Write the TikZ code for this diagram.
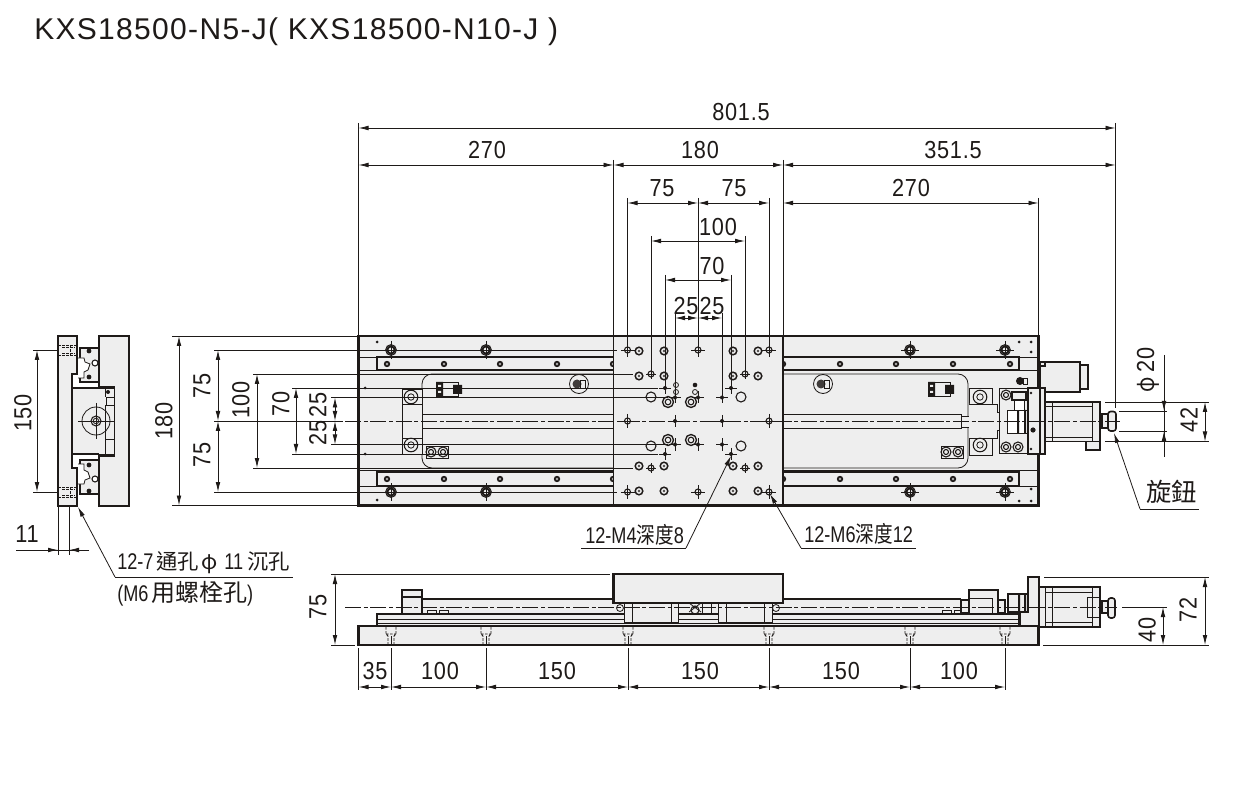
\documentclass[tikz,border=0pt]{standalone}
\usepackage{fontspec}
\setmainfont{Liberation Sans}
\newfontfamily\titlefont[LetterSpace=4.4]{Liberation Sans}
\newfontfamily\dimfont[FakeStretch=0.88,LetterSpace=3]{Liberation Sans}
\newfontfamily\tagfont[FakeStretch=0.8]{Liberation Sans}
\newfontfamily\cjkfont[FakeStretch=0.82]{Noto Sans CJK TC}
\newfontfamily\cjkwide{Noto Sans CJK TC}
\usetikzlibrary{arrows.meta}
\definecolor{partgray}{HTML}{EEEEEE}
\definecolor{inkblack}{HTML}{1E1A18}
\newcommand{\cj}[1]{{\cjkfont #1}}
\newcommand{\cjw}[2]{{\cjkwide\fontsize{#1}{20}\selectfont #2}}
\newcommand{\xhair}[3]{\draw[thinln] (#1-#3,#2) -- (#1+#3,#2) (#1,#2-#3) -- (#1,#2+#3);}
\tikzset{
    thinln/.style = {draw=inkblack, line width=0.6pt},
    thickln/.style = {draw=inkblack, line width=1.6pt},
    part/.style = {thickln, fill=partgray},
    subpart/.style = {thinln, fill=partgray},
    centerln/.style = {thinln, dash pattern=on 12pt off 2pt on 3pt off 2pt},
    hiddenln/.style = {thinln, dash pattern=on 2pt off 1pt},
    dimln/.style = {thinln, {Latex[length=7.5pt,width=3.5pt]}-{Latex[length=7.5pt,width=3.5pt]}},
    dimin/.style = {thinln, -{Latex[length=7.5pt,width=3.5pt]}},
    num/.style = {inner sep=0pt, text=inkblack, font=\dimfont\fontsize{18.5}{20}\selectfont},
    tag/.style = {inner sep=0pt, text=inkblack, font=\tagfont\fontsize{17}{20}\selectfont},
    ring/.style = {thinln, line width=0.8pt},
}
\begin{document}
\begin{tikzpicture}[x=0.75pt, y=-0.75pt]
    \useasboundingbox (0,0) rectangle (1252,787);
    \node[inner sep=0pt, anchor=west, text=inkblack, font=\titlefont\fontsize{22.5}{24}\selectfont] (title) at (34,32) {KXS18500-N5-J( KXS18500-N10-J )};

    % side view
    \draw[part] (58,336) -- (77,336) -- (77,374) -- (72,374) -- (72,468) -- (77,468) -- (77,506) -- (58,506) -- cycle;
    \draw[part] (99,336) -- (129,336) -- (129,506) -- (99,506) -- (99,456) -- (114,456) -- (114,387) -- (99,387) -- cycle;
    \draw[subpart] (72,388) rectangle (114,454);
    \draw[thinln, line width=1pt] (72,388) -- (99,388) (72,454) -- (99,454);
    \draw[thinln] (106,397) rectangle (114,405) (105,439) rectangle (114,454) (105,388) -- (105,397) (105,405) -- (105,439);
    \fill[inkblack] (108,392) circle (2);
    \draw[thinln] (96,421) circle (14);
    \draw[ring] (96,421) circle (5);
    \draw[thinln] (96,421) circle (2.8);
    \xhair{96}{421}{18}
    \foreach \y/\s in {350/1,492/-1} {
        \draw[thickln, fill=partgray, line width=1.3pt] (80,\y-2*\s) -- (99,\y-2*\s) -- (99,\y+32*\s) -- (80,\y+32*\s) -- cycle;
        \draw[thinln, fill=white] (78,\y+8*\s) -- (84,\y+8*\s) -- (85,\y+12*\s) -- (90,\y+14*\s) -- (88,\y+20*\s) -- (84,\y+22*\s) -- (84,\y+28*\s) -- (78,\y+28*\s);
        \fill[inkblack] (89,\y+1*\s) circle (2.4) (89,\y+27*\s) circle (2.4);
        \draw[ring, fill=white] (95,\y+13*\s) circle (3);
        \draw[hiddenln] (58,\y-5) -- (77,\y-5) (58,\y+5) -- (77,\y+5) (70,\y-5) -- (70,\y+5) (62,\y-3) -- (75,\y-3) (62,\y+3) -- (75,\y+3);
    }
    \draw[thinln] (33,350) -- (58,350) (33,492) -- (58,492) (58,506) -- (58,555) (69,506) -- (69,555);
    \draw[dimln] (37,350) -- (37,492);
    \draw[thinln] (16,550) -- (69,550) (69,550) -- (79,550);
    \draw[dimin] (38,550) -- (58,550);
    \draw[dimin] (89,550) -- (69,550);
    \node[num, rotate=90] (side150) at (23,413) {150};
    \node[num] (side11) at (27,534) {11};

    % plan view, base and rails
    \draw[part] (358.5,336) rectangle (1038.5,505.5);
    \draw[thinln] (358.5,357) -- (1038.5,357) (358.5,370) -- (1038.5,370) (358.5,470) -- (1038.5,470) (358.5,486) -- (1038.5,486);
    \draw[part] (377,357) rectangle (1019,370);
    \draw[part] (377,472) rectangle (1019,486);
    \foreach \x in {387,444,500,557,613,783,840,896,953,1010} {
        \foreach \y in {364,479} {
            \fill[inkblack] (\x,\y) circle (3.2);
            \fill[partgray!70!inkblack] (\x,\y) circle (1.3);
        }
    }
    \foreach \x in {391,486,910,1005} {
        \foreach \y in {350,492} {
            \draw[thinln] (\x,\y) circle (5.5) (\x,\y) circle (4.2) (\x,\y) circle (3);
            \xhair{\x}{\y}{9}
        }
    }
    \foreach \x/\y in {377/342,377/500,365/388,365/454,1019/342,1031/342,1031/352,1031/489,1019/501,1031/501}
        \fill[inkblack] (\x,\y) circle (1.5);

    % carriage and screw
    \draw[thinln, rounded corners=7.5pt] (613,374) -- (422,374) -- (422,468) -- (613,468);
    \draw[thinln, rounded corners=7.5pt] (783,374) -- (968,374) -- (968,468) -- (783,468);
    \draw[subpart] (422,414.5) rectangle (961,428);
    \draw[subpart] (961,416) rectangle (969,427);
    \draw[subpart] (402,389) rectangle (422,454);
    \draw[thinln] (402,404) -- (422,404) (402,438) -- (422,438);
    \foreach \y in {397,445} {
        \draw[ring] (411,\y) circle (6.8);
        \draw[thinln] (411,\y) circle (3.2);
    }
    \foreach \x in {436,928} {
        \draw[thinln, fill=partgray] (\x,382) rectangle (\x+22,396);
        \fill[inkblack] (\x,382) rectangle (\x+7,396) (\x+17,385) rectangle (\x+26,394);
        \fill[partgray] (\x+2,385) rectangle (\x+5,387) (\x+2,391) rectangle (\x+5,393);
    }
    \draw[thinln] (426,446) rectangle (448,458);
    \foreach \x in {431,443} \draw[ring] (\x,452) circle (5) (\x,452) circle (2.5);
    \foreach \x in {579,823} {
        \draw[thinln] (\x,384) circle (9.5);
        \fill[inkblack!85] (\x-2,384) circle (4.5);
        \draw[thinln] (\x+1,380) rectangle (\x+6,388);
    }
    \draw[thinln] (941,446) rectangle (963,458);
    \foreach \x in {946,958} \draw[ring] (\x,452) circle (5) (\x,452) circle (2.5);

    % right hand drive end
    \draw[subpart] (969,388) rectangle (992,455);
    \draw[subpart] (969,404) -- (997,404) -- (997,412) -- (1003,412) -- (1003,430) -- (997,430) -- (997,438) -- (969,438);
    \foreach \y in {397,445} {
        \draw[ring] (980,\y) circle (6.8);
        \draw[thinln] (980,\y) circle (3.2);
    }
    \draw[subpart] (999,388) rectangle (1028,453);
    \foreach \x/\y in {1006/395,1006/447,1018/447} \draw[ring] (\x,\y) circle (5) (\x,\y) circle (2.5);
    \draw[thinln, fill=white] (1007,410) rectangle (1028,433);
    \fill[inkblack] (1017,410) rectangle (1019,433) (1024,410) rectangle (1026,433);
    \draw[thickln, line width=1.1pt] (1012,392) rectangle (1026,400);
    \draw[thinln, fill=white] (1014,400) rectangle (1024,410);
    \draw[thickln, fill=partgray, line width=1.1pt] (1086,441) rectangle (1100,450);
    \draw[thickln, fill=partgray, line width=1.3pt] (1045,402) rectangle (1100,441.5);
    \draw[thinln] (1052,402) -- (1052,441) (1092,402) -- (1092,441) (1045,406) -- (1092,406) (1045,437) -- (1092,437);
    \draw[thickln, fill=partgray, line width=1.3pt] (1040,362) rectangle (1080,392);
    \draw[thickln, fill=partgray, line width=1.3pt] (1080,365) rectangle (1088,389);
    \draw[thickln, line width=1.1pt] (1040,362) rectangle (1045,366);
    \draw[part, line width=1.3pt] (1028,388) rectangle (1045,454);
    \draw[thinln] (1028,388) -- (1040,388);
    \draw[thickln] (1040,388) -- (1040,454);
    \fill[inkblack] (1033,430) circle (2.6) (1031,393) circle (1.4) (1031,449) circle (1.4);
    \draw[thickln, fill=partgray, line width=1pt] (1102,414) rectangle (1108,428);
    \draw[thickln, fill=partgray, line width=1.2pt, rounded corners=2pt] (1108,411.5) rectangle (1116,431);
    \fill[inkblack] (1020,381) circle (4);
    \draw[thinln, fill=partgray] (1023,378) rectangle (1027,384);

    % plan view, table
    \fill[partgray] (613.5,336) rectangle (783,505.5);
    \draw[thickln] (358.5,336) -- (1038.5,336) (358.5,505.5) -- (1038.5,505.5) (783,336) -- (783,505.5);
    \draw[thinln, line width=.9pt] (613.5,336) -- (613.5,505.5);
    \foreach \x in {639,664,733,758} {
        \foreach \y in {351,376,466,491} {
            \draw[ring, line width=1.1pt] (\x,\y) circle (3.8);
            \fill[inkblack!80] (\x,\y) circle (1.4);
        }
    }
    \foreach \x/\y in {668/402,691/402,668/440,691/440} {
        \draw[ring, line width=1pt] (\x,\y) circle (5.5);
        \draw[ring] (\x,\y) circle (2.8);
    }
    \foreach \x/\y in {651/397,741/397,651/446,741/446} \draw[thinln, line width=.8pt] (\x,\y) circle (5);
    \foreach \x/\y in {676/385,695/392,676/392} \draw[thinln] (\x,\y) circle (2.5);
    \fill[inkblack] (695,385) circle (2.3);
    \foreach \x/\y in {627.5/350,698/350,769/350,627.5/492,698/492,769/492,627.5/421,769/421} {
        \draw[ring] (\x,\y) circle (3);
        \xhair{\x}{\y}{7}
    }
    \foreach \x/\y in {651/374,745/374,651/468,745/468} {
        \draw[ring] (\x,\y) circle (3);
        \xhair{\x}{\y}{5}
    }
    \foreach \x/\y in {665/388,731/388,665/454,731/454,675/397.5,698/397.5,722/397.5,675/444.5,698/444.5,722/444.5,675/421,722/421} {
        \fill[inkblack] (\x,\y) circle (2);
        \xhair{\x}{\y}{6}
    }
    \draw[centerln] (345,421) -- (1120,421);

    % top dimensions
    \draw[thinln] (358.5,123) -- (358.5,336) (1115.5,123) -- (1115.5,408) (613.5,160) -- (613.5,336) (783,160) -- (783,336) (1038.5,198) -- (1038.5,336);
    \draw[thinln] (627.5,198) -- (627.5,350) (698,198) -- (698,350) (769,198) -- (769,350);
    \draw[thinln] (651,236) -- (651,374) (745,236) -- (745,374) (665,275) -- (665,388) (731,275) -- (731,388);
    \draw[thinln] (675,313) -- (675,397.5) (722,313) -- (722,397.5);
    \draw[dimln] (358.5,128) -- (1115.5,128);
    \foreach \a/\b/\y in {358.5/613.5/165,613.5/783/165,783/1115.5/165,783/1038.5/203,627.5/698/203,698/769/203,651/745/241,665/731/280,675/698/318,698/722/318}
        \draw[dimln] (\a,\y) -- (\b,\y);
    \node[num] (dimTotal) at (741,112) {801.5};
    \node[num] (dimLeft) at (487,150) {270};
    \node[num] (dimTable) at (700,150) {180};
    \node[num] (dimRight) at (953,150) {351.5};
    \node[num] (dimStroke) at (911,188) {270};
    \node[num] (dimA) at (662,188) {75};
    \node[num] (dimB) at (734,188) {75};
    \node[num] (dimC) at (718,227) {100};
    \node[num] (dimD) at (712,266) {70};
    \node[num] (dimE) at (686,306) {25};
    \node[num] (dimF) at (712,306) {25};

    % left dimensions
    \draw[thinln] (172,336) -- (358.5,336) (172,505.5) -- (358.5,505.5) (214,421) -- (343,421);
    \draw[thinln] (214,350) -- (617,350) (214,492) -- (617,492) (253,374) -- (633,374) (253,468) -- (633,468);
    \draw[thinln] (292,388) -- (658,388) (292,454) -- (658,454) (331,397.5) -- (668,397.5) (331,444.5) -- (668,444.5);
    \draw[dimln] (179,336) -- (179,505.5);
    \foreach \x/\a/\b in {218/350/421,218/421/492,257/374/468,296/388/454,335/397.5/421,335/421/444.5}
        \draw[dimln] (\x,\a) -- (\x,\b);
    \node[num, rotate=90] (dim180) at (164,421) {180};
    \node[num, rotate=90] (dim75a) at (202,386) {75};
    \node[num, rotate=90] (dim75b) at (202,455) {75};
    \node[num, rotate=90] (dim100) at (241,400) {100};
    \node[num, rotate=90] (dim70) at (281,404) {70};
    \node[num, rotate=90] (dim25a) at (318,405) {25};
    \node[num, rotate=90] (dim25b) at (318,433) {25};

    % right dimensions
    \draw[thinln] (1119,411) -- (1167,411) (1119,431) -- (1167,431) (1105,402) -- (1209,402) (1105,441.5) -- (1209,441.5) (1164,355) -- (1164,457);
    \draw[dimin] (1164,391) -- (1164,411);
    \draw[dimin] (1164,451) -- (1164,431);
    \draw[dimln] (1205,402) -- (1205,441.5);
    \node[num, rotate=90] (dimPhi) at (1148,370) {\cj{φ}\,20};
    \node[num, rotate=90] (dim42) at (1189,420) {42};

    % front view
    \draw[part] (358.5,625.7) rectangle (1038.5,645);
    \draw[subpart] (422,599) rectangle (961,614);
    \draw[thickln, line width=1.2pt] (422,599) -- (961,599);
    \foreach \x in {427,439,942,954} \draw[thinln] (\x,614) rectangle (\x+9,610);
    \draw[part] (377,614) rectangle (1019,625.7);
    \draw[thinln] (377,619) -- (1019,619) (377,623) -- (1019,623);
    \draw[thickln, fill=partgray, line width=1.2pt] (402,590) rectangle (422,614);
    \draw[thinln, line width=.9pt] (402,597) -- (422,597);
    \foreach \x in {624,718} \draw[subpart] (\x,603) rectangle (\x+54,622);
    \draw[thinln] (632,603) -- (632,622) (671,603) -- (671,622) (726,603) -- (726,622) (764,603) -- (764,622);
    \draw[thinln] (702,603) -- (702,614) (711,603) -- (711,614);
    \draw[ring] (695,610) circle (4);
    \draw[thinln] (689,603) -- (701,612) (701,603) -- (689,612) (620,608) circle (3.5) (776,608) circle (3.5);
    \draw[part] (613.5,574) rectangle (783,603);

    \draw[thickln, fill=partgray, line width=1.2pt] (969,590) rectangle (998,614);
    \draw[thinln] (969,598) -- (992,598) -- (992,614);
    \draw[thinln, line width=1pt, fill=partgray] (961,600) rectangle (969,613) (998,600) rectangle (1005,613);
    \draw[thickln, fill=partgray, line width=1.2pt] (1008,594) rectangle (1028,612);
    \fill[inkblack] (1018,594) rectangle (1020,612) (1024,594) rectangle (1026,612);
    \draw[part] (1039,627) -- (1039,577) -- (1028,577) -- (1028,612) -- (1020,612) -- (1020,625.7) -- (1039,625.7);
    \draw[thickln, fill=partgray, line width=1.3pt] (1039,587) rectangle (1100,627);
    \draw[thinln] (1045,587) -- (1045,627) (1052,587) -- (1052,627) (1092,587) -- (1092,627) (1045,592) -- (1092,592) (1045,622) -- (1092,622);
    \draw[thinln] (1100,597) -- (1087,597) -- (1087,617) -- (1100,617);
    \draw[thickln, fill=partgray, line width=1pt] (1102,601) rectangle (1108,613);
    \draw[thickln, fill=partgray, line width=1.2pt, rounded corners=2pt] (1108,598) rectangle (1115,618);
    \draw[centerln] (345,607) -- (1117,607);
    \foreach \x in {391,486,628,769,910,1005} {
        \draw[hiddenln] (\x-5,627) -- (\x-5,634) -- (\x-3,636) -- (\x-3,645) (\x+5,627) -- (\x+5,634) -- (\x+3,636) -- (\x+3,645) (\x-5,634) -- (\x+5,634);
        \draw[thinln] (\x,636) -- (\x,645) (\x,648) -- (\x,690);
    }

    % front dimensions
    \draw[thinln] (331,574) -- (610,574) (331,645) -- (355,645) (358.5,648) -- (358.5,690);
    \draw[thinln] (1044,577) -- (1209,577) (1043,645) -- (1209,645) (1122,607) -- (1167,607);
    \draw[dimln] (335,574) -- (335,645);
    \draw[dimln] (1205,577) -- (1205,645);
    \draw[dimln] (1163,607) -- (1163,645);
    \foreach \a/\b in {358.5/391,391/486,486/628,628/769,769/910,910/1005}
        \draw[dimln] (\a,687) -- (\b,687);
    \node[num, rotate=90] (front75) at (318,607) {75};
    \node[num, rotate=90] (front72) at (1188,610) {72};
    \node[num, rotate=90] (front40) at (1147,630) {40};
    \node[num] (pitchA) at (375,671) {35};
    \node[num] (pitchB) at (440,671) {100};
    \node[num] (pitchC) at (557,671) {150};
    \node[num] (pitchD) at (700,671) {150};
    \node[num] (pitchE) at (841,671) {150};
    \node[num] (pitchF) at (959,671) {100};

    % leaders
    \coordinate (boltHole) at (78,507);
    \coordinate (boltElbow) at (115,577);
    \coordinate (boltEnd) at (293,577);
    \coordinate (mfourHole) at (731,456);
    \coordinate (mfourElbow) at (686,548);
    \coordinate (mfourEnd) at (581,548);
    \coordinate (msixHole) at (770,494);
    \coordinate (msixElbow) at (801,548);
    \coordinate (msixEnd) at (916,548);
    \coordinate (knobPoint) at (1114,433);
    \coordinate (knobElbow) at (1140,509);
    \coordinate (knobEnd) at (1199,509);
    \draw[dimin] (boltElbow) -- (boltHole);
    \draw[thinln] (boltElbow) -- (boltEnd);
    \draw[dimin] (mfourElbow) -- (mfourHole);
    \draw[thinln] (mfourElbow) -- (mfourEnd);
    \draw[dimin] (msixElbow) -- (msixHole);
    \draw[thinln] (msixElbow) -- (msixEnd);
    \draw[dimin] (knobElbow) -- (knobPoint);
    \draw[thinln] (knobElbow) -- (knobEnd);
    \node[tag, anchor=west] (boltText) at (117,563) {12-7\hspace{2pt}\cjw{16}{通孔}\hspace{2pt}\cjw{16}{φ}\hspace{5pt}11\hspace{3pt}\cjw{16}{沉孔}};
    \node[tag, anchor=west] (boltNote) at (117,594) {(M6\hspace{2pt}\cjw{18}{用螺栓孔})};
    \node[tag, anchor=west] (mfourText) at (585,535) {12-M4\cj{深度}8};
    \node[tag, anchor=west] (msixText) at (804,534) {12-M6\cj{深度}12};
    \node[tag, anchor=west] (knobText) at (1146,492) {\cjw{19}{旋鈕}};
\end{tikzpicture}
\end{document}
